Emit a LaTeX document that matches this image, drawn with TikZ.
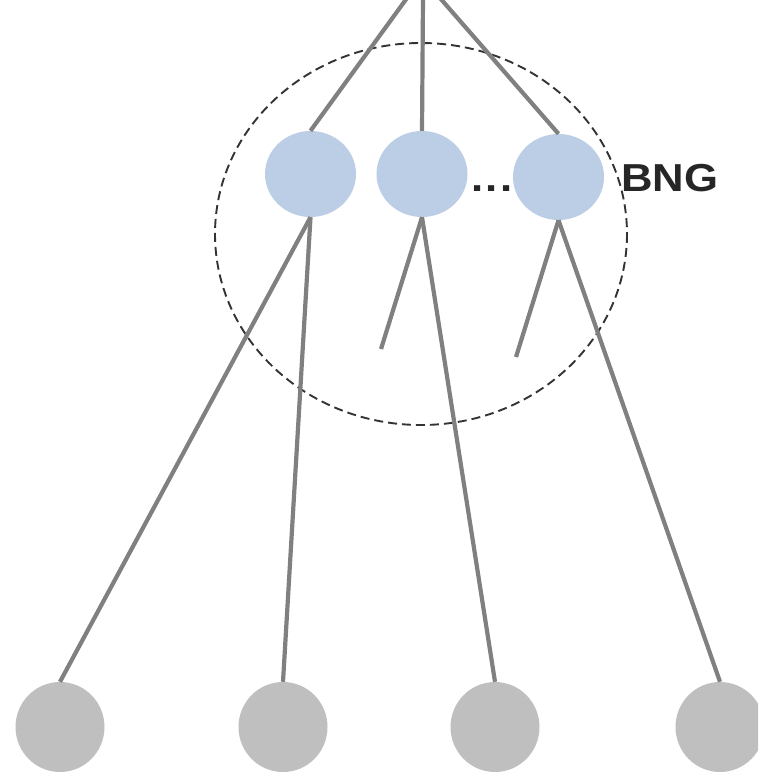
\documentclass[tikz,border=0pt]{standalone}
\usepackage{fontspec}
\setmainfont{Liberation Sans}
\usetikzlibrary{shapes.geometric}
\definecolor{bngblue}{HTML}{BCCEE6}
\definecolor{leafgray}{HTML}{BFBFBF}
\definecolor{edgegray}{HTML}{808080}
\definecolor{labeldark}{HTML}{262626}
\tikzset{
  bngnode/.style={ellipse, fill=bngblue, draw=none, minimum width=91pt, minimum height=86pt, inner sep=0pt},
  leafnode/.style={ellipse, fill=leafgray, draw=none, minimum width=89pt, minimum height=90pt, inner sep=0pt},
  edge/.style={draw=edgegray, line width=4.2pt},
  group/.style={draw=black!80, line width=1.9pt, dash pattern=on 9pt off 5pt},
  label/.style={font=\fontsize{39}{39}\selectfont\bfseries, text=labeldark, inner sep=0pt, xscale=1.12}
}
\begin{document}
\begin{tikzpicture}[x=1pt,y=-1pt]
  \useasboundingbox (0,0) rectangle (758,773);
  \clip (0,0) rectangle (758,773);

  % dashed boundary of the group
  \draw[group] (421,234) ellipse [x radius=206, y radius=191];

  % group members
  \node[bngnode] (b1) at (310.5,174) {};
  \node[bngnode] (b2) at (422,174) {};
  \node[bngnode] (b3) at (558.5,177) {};

  % leaves
  \node[leafnode] (l1) at (60,727) {};
  \node[leafnode] (l2) at (283,727) {};
  \node[leafnode] (l3) at (495,727) {};
  \node[leafnode] (l4) at (720,727) {};

  % incoming edges from above
  \coordinate (t1) at (407,-2);
  \coordinate (t2) at (423,-2);
  \coordinate (t3) at (440,-2);
  \draw[edge] (t1) -- (b1.north);
  \draw[edge] (t2) -- (b2.north);
  \draw[edge] (t3) -- (b3.north);

  % short stubs
  \coordinate (s2) at (381,349);
  \coordinate (s3) at (516,357);

  % outgoing edges
  \draw[edge] (b1.south) -- (l1.north);
  \draw[edge] (b1.south) -- (l2.north);
  \draw[edge] (b2.south) -- (s2);
  \draw[edge] (b2.south) -- (l3.north);
  \draw[edge] (b3.south) -- (s3);
  \draw[edge] (b3.south) -- (l4.north);

  % labels
  \node[label, anchor=base] (dots) at (492,191.5) {.\kern2.5pt.\kern2.5pt.};
  \node[label, anchor=base west] (bng) at (621,191) {BNG};
\end{tikzpicture}
\end{document}
